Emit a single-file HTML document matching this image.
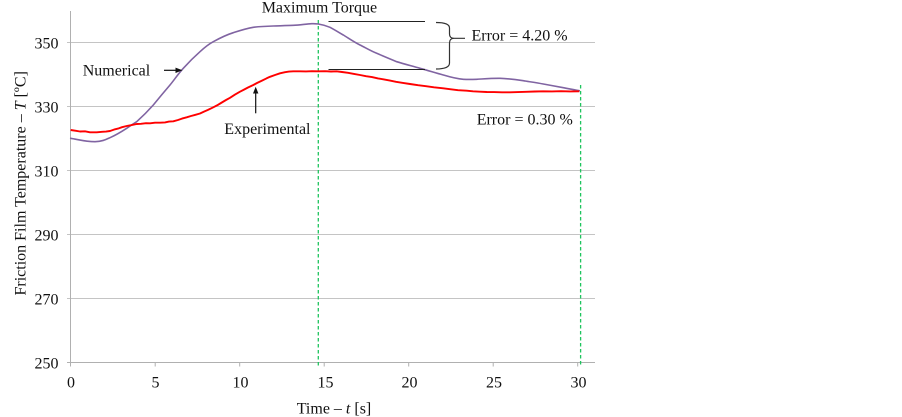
<!DOCTYPE html>
<html>
<head>
<meta charset="utf-8">
<style>
  html, body { margin: 0; padding: 0; background: #ffffff; }
  body { width: 902px; height: 417px; overflow: hidden; }
  svg { display: block; }
  text { font-family: "Liberation Serif", "DejaVu Serif", serif; font-size: 16px; fill: #111; }
</style>
</head>
<body>
<svg width="902" height="417" viewBox="0 0 902 417" xmlns="http://www.w3.org/2000/svg">
  <rect x="0" y="0" width="902" height="417" fill="#ffffff"/>

  <!-- gridlines -->
  <g stroke="#c4c4c4" stroke-width="1">
    <line x1="67" y1="42.5" x2="595" y2="42.5"/>
    <line x1="67" y1="106.5" x2="595" y2="106.5"/>
    <line x1="67" y1="170.5" x2="595" y2="170.5"/>
    <line x1="67" y1="234.5" x2="595" y2="234.5"/>
    <line x1="67" y1="298.5" x2="595" y2="298.5"/>
  </g>
  <!-- axes -->
  <g stroke="#b0b0b0" stroke-width="1">
    <line x1="67" y1="362.5" x2="595" y2="362.5"/>
    <line x1="70.5" y1="11" x2="70.5" y2="362.5"/>
    <line x1="70.5" y1="362.5" x2="70.5" y2="366.5"/>
    <line x1="155.2" y1="362.5" x2="155.2" y2="366.5"/>
    <line x1="239.7" y1="362.5" x2="239.7" y2="366.5"/>
    <line x1="324.2" y1="362.5" x2="324.2" y2="366.5"/>
    <line x1="408.7" y1="362.5" x2="408.7" y2="366.5"/>
    <line x1="493.2" y1="362.5" x2="493.2" y2="366.5"/>
    <line x1="577.7" y1="362.5" x2="577.7" y2="366.5"/>
  </g>

  <!-- y tick labels -->
  <g text-anchor="end">
    <text x="58.5" y="48.3">350</text>
    <text x="58.5" y="112.3">330</text>
    <text x="58.5" y="176.3">310</text>
    <text x="58.5" y="240.3">290</text>
    <text x="58.5" y="304.3">270</text>
    <text x="58.5" y="368.3">250</text>
  </g>
  <!-- x tick labels -->
  <g text-anchor="middle">
    <text x="71" y="387.3">0</text>
    <text x="155.5" y="387.3">5</text>
    <text x="240.5" y="387.3">10</text>
    <text x="325.5" y="387.3">15</text>
    <text x="409.5" y="387.3">20</text>
    <text x="494" y="387.3">25</text>
    <text x="578.5" y="387.3">30</text>
  </g>

  <!-- axis titles -->
  <text x="334" y="413.3" text-anchor="middle">Time – <tspan font-style="italic">t</tspan> [s]</text>
  <text transform="translate(25.5,183.3) rotate(-90)" text-anchor="middle">Friction Film Temperature – <tspan font-style="italic">T</tspan> [ºC]</text>

  <!-- green dashed lines -->
  <g stroke="#1fc45e" stroke-width="1.3" stroke-dasharray="3.5,2.5" fill="none">
    <line x1="318.3" y1="20" x2="318.3" y2="366"/>
    <line x1="580.6" y1="85" x2="580.6" y2="367"/>
  </g>

  <!-- numerical (purple) -->
  <path fill="none" stroke="#8064a2" stroke-width="1.6" stroke-linejoin="round" stroke-linecap="round"
    d="M70.7,138.3 C78,139.5 86,141.7 95,141.7 C102,141.5 106,139.5 110,137.7 C116,135 121,132 126.7,128.3 C130,126 133,124 136.7,121.7 C143,116 148,111 153.3,105 C159,98 164,92 170,85 C175,79 178,74 183.3,68.3 C189,62 194,57 200,51.7 C204,48 208,44.5 213.3,41.7 C220,38 226,35 233.3,32.7 C240,30.5 246,28.5 253.3,27.3 C260,26.5 266,26.2 273.3,26 C280,25.7 287,25.5 293.3,25.3 C300,25 306,24 311.7,23.7 C314,23.6 316,23.7 318.3,24 C322,24.6 326,25.6 330,27.3 C335,30 339,32.5 343.3,35 C349,38.5 354,42 360,45 C366,48 371,51 376.7,53.3 C383,56 390,59 396.7,61.7 C404,64 412,66 420,68.3 C428,70.5 436,73 443.3,75 C450,77 456,78.8 463.3,79.3 C468,79.6 472,79.5 476.7,79.3 C485,78.8 492,78.2 500,78.3 C508,78.6 516,79.6 523.3,80.7 C530,81.8 537,82.8 543.3,84 C550,85.2 556,86.4 563.3,87.7 C569,88.8 574,89.8 579.3,90.7"/>

  <!-- experimental (red) -->
  <polyline fill="none" stroke="#ff0000" stroke-width="1.9" stroke-linejoin="round"
    points="70.7,130 76,130.8 80,131.5 85,131.3 90,132.3 96.7,132.3 102,131.8 106,131.6 110,131 114,129.6 118,128.6 122,127.2 126.7,126 131,125.2 136.7,124 141,123.8 146,123.2 150,123.3 155,122.7 160,122.7 165,122.4 169,121.6 173.3,121.3 178,120 182,118.6 186.7,117.3 191,116 195,114.9 200,113.5 204,111.6 208,109.9 213.3,107.3 217,105.4 221,103 226,100 230,97.8 235,94.6 240,91.7 244,89.6 248,87.5 253.3,85 257,83 262,80.6 266.7,78.3 270,76.8 275,75 280,73.3 285,72.2 289,71.6 293.3,71.3 300,71.3 306,71.4 312,71.2 318.3,71.3 325,71.2 331,71.5 336.7,71.3 342,72 348,72.8 354,73.9 360,75 366,76.2 372,77.1 378,78.4 383.3,79.3 390,80.6 396,81.8 403,82.9 410,84 418,85.2 426,86.2 434,87.3 443.3,88.3 450,89.2 458,90.2 466.7,90.7 473,91.3 480,91.7 486.7,92 494,92.1 502,92.3 510,92.3 518,92.1 526,91.8 535,91.5 543.3,91.3 552,91.4 561,91.2 570,91.4 579.3,91.3"/>

  <!-- annotations -->
  <text x="261.7" y="12.7">Maximum Torque</text>
  <g stroke="#222" stroke-width="1" fill="none">
    <line x1="328.5" y1="21.5" x2="425" y2="21.5"/>
    <line x1="328.5" y1="69.5" x2="425" y2="69.5"/>
    <path stroke="#333" stroke-width="1.2" d="M436,22.5 Q449.5,22.5 449.5,28 L449.5,34 Q449.5,38.3 454,38.3 L465,38.3 M454,38.3 Q449.5,38.3 449.5,43 L449.5,63 Q449.5,69 436,69"/>
  </g>
  <text x="471.5" y="40.5">Error = 4.20 %</text>
  <text x="476.7" y="124.3">Error = 0.30 %</text>

  <text x="82.7" y="75.7">Numerical</text>
  <line x1="164" y1="70.3" x2="177" y2="70.3" stroke="#111" stroke-width="1.2"/>
  <polygon points="182.5,70.3 175.5,67.6 175.5,73" fill="#111"/>

  <text x="224.3" y="134">Experimental</text>
  <line x1="255.7" y1="113.3" x2="255.7" y2="92" stroke="#111" stroke-width="1.2"/>
  <polygon points="255.7,86.8 253,93.5 258.4,93.5" fill="#111"/>
</svg>
</body>
</html>
